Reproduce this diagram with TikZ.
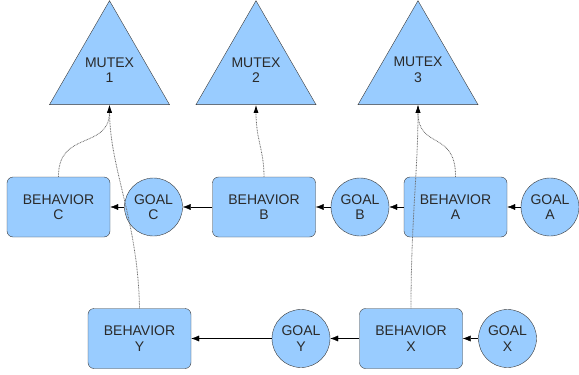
\documentclass[tikz,border=0pt]{standalone}
\usepackage{fontspec}
\setmainfont{Liberation Sans}
\usetikzlibrary{shapes.geometric,arrows.meta}
\definecolor{boxblue}{HTML}{99CCFF}
\definecolor{edgegray}{HTML}{3A3A3A}
\definecolor{txtgray}{HTML}{2A2A2A}
\definecolor{dotgray}{HTML}{6A6A6A}
\tikzset{
  every node/.style={font=\fontsize{14}{15.5}\selectfont,text=txtgray,align=center,inner sep=0pt},
  behavior/.style={draw=edgegray,fill=boxblue,rounded corners=6pt,minimum width=103pt,minimum height=60pt},
  goal/.style={draw=edgegray,fill=boxblue,circle,minimum size=58pt},
  mutex/.style={draw=edgegray,fill=boxblue,regular polygon,regular polygon sides=3,minimum size=135pt},
  feed/.style={draw=black,-{Latex[length=8pt,width=6pt]}},
  lock/.style={draw=dotgray,line width=.8pt,dash pattern=on .8pt off .8pt,-{Latex[length=8pt,width=5pt,color=black]}}
}
\begin{document}
\begin{tikzpicture}[x=1pt,y=-1pt]
        \useasboundingbox (0,0) rectangle (579,375);
        % mutexes
        \node[mutex] (mutex1) at (109.5,70) {MUTEX\\1};
        \node[mutex] (mutex2) at (256,70) {MUTEX\\2};
        \node[mutex] (mutex3) at (418,70) {MUTEX\\3};
        % upper row
        \node[behavior] (behC) at (58.5,207) {BEHAVIOR\\C};
        \node[goal] (goalC) at (153.5,207) {GOAL\\C};
        \node[behavior] (behB) at (264,207) {BEHAVIOR\\B};
        \node[goal] (goalB) at (360,207) {GOAL\\B};
        \node[behavior] (behA) at (455.5,207) {BEHAVIOR\\A};
        \node[goal] (goalA) at (550,207) {GOAL\\A};
        % lower row
        \node[behavior] (behY) at (139.5,338.5) {BEHAVIOR\\Y};
        \node[goal] (goalY) at (301,338.5) {GOAL\\Y};
        \node[behavior] (behX) at (411,338.5) {BEHAVIOR\\X};
        \node[goal] (goalX) at (507.5,338.5) {GOAL\\X};

        \draw[feed] (goalC) -- (behC);
        \draw[feed] (behB) -- (goalC);
        \draw[feed] (goalB) -- (behB);
        \draw[feed] (behA) -- (goalB);
        \draw[feed] (goalA) -- (behA);
        \draw[feed] (goalY) -- (behY);
        \draw[feed] (behX) -- (goalY);
        \draw[feed] (goalX) -- (behX);

        \draw[lock] (behC.north) .. controls (58,130) and (109,150) .. (mutex1.south);
        \draw[lock] (behY.north) .. controls (138,220) and (110,170) .. (mutex1.south);
        \draw[lock] (behB.north) .. controls (264,150) and (256,140) .. (mutex2.south);
        \draw[lock] (behX.north) .. controls (411,220) and (418,170) .. (mutex3.south);
        \draw[lock] (behA.north) .. controls (456,130) and (418,150) .. (mutex3.south);

      \end{tikzpicture}
\end{document}
